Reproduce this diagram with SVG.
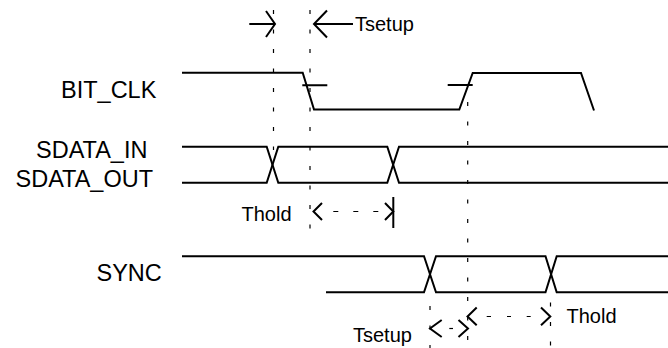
<svg xmlns="http://www.w3.org/2000/svg" width="668" height="348" viewBox="0 0 668 348">
<style>
.lbl{font-family:"Liberation Sans",Arial,sans-serif;font-size:23.5px;fill:#000}
.t{font-family:"Liberation Sans",Arial,sans-serif;font-size:20px;fill:#000}
.w{fill:none;stroke:#000;stroke-width:2;stroke-linejoin:miter}
.g{fill:none;stroke:#000;stroke-width:1.2;stroke-dasharray:4 15.5}
.a{fill:none;stroke:#000;stroke-width:2}
.d{fill:none;stroke:#000;stroke-width:1.2}
</style>
<rect width="668" height="348" fill="#fff"/>
<g id="guides">
<line class="g" x1="273.5" y1="10" x2="273.5" y2="150"/>
<line class="g" x1="310" y1="10" x2="310" y2="240"/>
<line class="g" x1="467.7" y1="102" x2="467.7" y2="348"/>
<line class="g" x1="430" y1="306" x2="430" y2="348"/>
<line class="g" x1="550.5" y1="302.5" x2="550.5" y2="348"/>
</g>
<g id="bit_clk">
<text class="lbl" x="61" y="97.7">BIT_CLK</text>
<path class="w" d="M182,72.7 H302.7 L314,109.5 H459.3 L472.7,73 H581 L594,110.5"/>
<path class="w" d="M302.3,85.3 H327.3 M447.7,85 H472.7"/>
</g>
<g id="sdata">
<text class="lbl" x="36" y="158.3">SDATA_IN</text>
<text class="lbl" x="15.5" y="186.7">SDATA_OUT</text>
<path class="w" d="M182,146.7 H266.7 L278.3,182.7 H387.3 L399,146.7 H668"/>
<path class="w" d="M182,182.7 H266.7 L278.3,146.7 H387.3 L399,182.7 H668"/>
</g>
<g id="sync">
<text class="lbl" x="96.5" y="280.5">SYNC</text>
<path class="w" d="M182,256.3 H424 L436,292.3 H545.5 L556.7,256.3 H668"/>
<path class="w" d="M326,292.3 H424 L436,256.3 H545.5 L556.7,292.3 H668"/>
</g>
<g id="connectors">
<path class="a" d="M249.3,24 H275 M266,11 L275,24 L266,37"/>
<path class="a" d="M353,24 H314 M327,10.5 L314,24 L327,37.5"/>
<text class="t" x="355" y="30.5">Tsetup</text>
<text class="t" x="241.5" y="220.5">Thold</text>
<path class="a" d="M322,203 L313.5,211.5 L322,220"/>
<path class="d" d="M333.3,211.5 H338.3 M353.3,211.5 H358.3 M373.3,211.5 H378.3"/>
<path class="a" d="M385,203 L393.3,211.5 L385,220"/>
<path class="a" d="M393.3,197 V228"/>
<path class="a" d="M441.7,320 L430,328.5 L441.7,337"/>
<path class="d" d="M449.3,328.5 H453"/>
<path class="a" d="M458.5,320 L468,328.5 L458.5,337"/>
<text class="t" x="353" y="341.7">Tsetup</text>
<path class="a" d="M476.7,307.5 L467.5,316.5 L476.7,325.3"/>
<path class="d" d="M486.7,316.5 H491 M507,316.5 H511 M526.7,316.5 H530.7"/>
<path class="a" d="M541,307.5 L550.3,316.5 L541,325.3"/>
<text class="t" x="566.5" y="322.7">Thold</text>
</g>
</svg>
